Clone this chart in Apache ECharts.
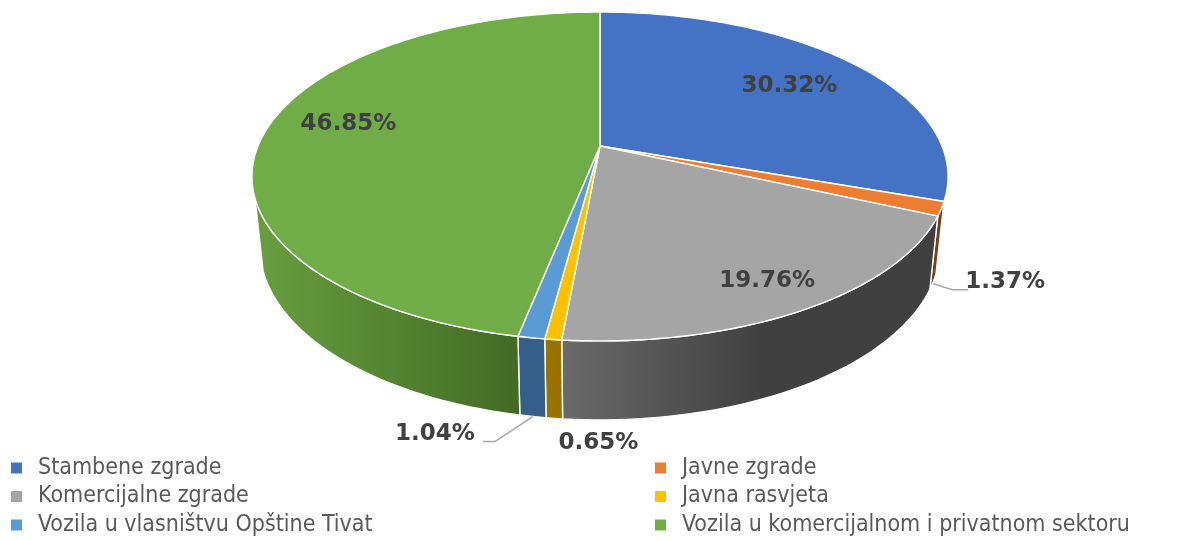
<!DOCTYPE html>
<html><head><meta charset="utf-8">
<style>html,body{margin:0;padding:0;background:#fff}#c{width:1193px;height:540px}</style>
<script src="https://cdn.jsdelivr.net/npm/echarts@6/dist/echarts.min.js"></script>
</head><body><div id="c"></div>
<script>
const categories = ['Stambene zgrade','Javne zgrade','Komercijalne zgrade','Javna rasvjeta','Vozila u vlasništvu Opštine Tivat','Vozila u komercijalnom i privatnom sektoru'];
const shares = [30.32,1.37,19.76,0.65,1.04,46.85];
const labels = ['30.32%','1.37%','19.76%','0.65%','1.04%','46.85%'];
const topColors = ['#4472C4','#ED7D31','#A5A5A5','#FFC000','#5B9BD5','#70AD47'];
const wallStops = [
  [[0,'#2f5190'],[1,'#2f5190']],
  [[0,'#7a3f14'],[1,'#7a3f14']],
  [[0,'#6a6a6a'],[0.53,'#404040'],[1,'#404040']],
  [[0,'#997300'],[1,'#997300']],
  [[0,'#345f8b'],[1,'#345f8b']],
  [[0,'#689e40'],[1,'#426b24']]
];
// projection of the pie's top and bottom discs (perspective)
const K = 0.1854;
const topDisc = {cx:600, cy:146, a:342, b:158.8};
const lowDisc = {cx:600, cy:216, a:334, b:166.1};
const WALL_FROM = 108, WALL_TO = 252;
function proj(d, r, deg){
  const t = deg*Math.PI/180, u = r*Math.sin(t), v = r*Math.cos(t), w = 1+K*v;
  return [d.cx + d.a*u/w, d.cy - d.b*v/w];
}
const total = shares.reduce((a,b)=>a+b,0);
const spans = []; { let c=0; for(const s of shares){ spans.push([c/total*360,(c+s)/total*360]); c+=s; } }
function arc(d,a0,a1){ const n=Math.max(2,Math.ceil(Math.abs(a1-a0)/1.5)), p=[]; for(let i=0;i<=n;i++) p.push(proj(d,1,a0+(a1-a0)*i/n)); return p; }
// label placement: [radius on top disc, dx, dy]; leaders: [dx,dy] bends from the wall's bottom rim
const labelPlace = [[0.7,8,0],[1.0,72,0],[0.7,31,27],[1.0,44,25],[1.0,-98,18],[0.74,-3,-11]];
const leaders = {1:[[0,2],[19,8],[35,8]], 4:[[0,0],[-38,25],[-50,25]]};
const labelFont = 'bold 23px "DejaVu Sans"';

function renderTop(idx){ return function(params, api){
  const [a0,a1]=spans[idx], pts=[proj(topDisc,0,0)].concat(arc(topDisc,a0,a1));
  const mid=(a0+a1)/2, pl=labelPlace[idx];
  const useLow = pl[0]===1.0;
  const base = useLow ? proj(lowDisc,1,mid) : proj(topDisc,pl[0],mid);
  const children=[{type:'polygon',shape:{points:pts},style:{fill:topColors[idx],stroke:'#fff',lineWidth:1.4,lineJoin:'round'}}];
  if(leaders[idx]){
    const r=proj(lowDisc,1,mid);
    children.push({type:'polyline',shape:{points:leaders[idx].map(o=>[r[0]+o[0],r[1]+o[1]])},style:{fill:null,stroke:'#a6a6a6',lineWidth:1.5}});
  }
  children.push({type:'text',style:{text:labels[idx],x:base[0]+pl[1],y:base[1]+pl[2],align:'center',verticalAlign:'middle',font:labelFont,fill:'#404040'}});
  return {type:'group',children};
};}
function renderWall(params, api){
  const idx=params.dataIndex,[s0,s1]=spans[idx],a0=Math.max(s0,WALL_FROM),a1=Math.min(s1,WALL_TO);
  if(a1<=a0) return {type:'group',children:[]};
  const pts=arc(topDisc,a0,a1).concat(arc(lowDisc,a1,a0));
  const xs=pts.map(p=>p[0]);
  return {type:'polygon',shape:{points:pts},style:{
    fill:new echarts.graphic.LinearGradient(Math.min(...xs),0,Math.max(...xs),0,wallStops[idx].map(s=>({offset:s[0],color:s[1]})),true),
    stroke:'#fff',lineWidth:1.4,lineJoin:'round'}};
}
const series=[{type:'custom',name:'walls',coordinateSystem:'none',z:1,silent:true,data:shares,renderItem:renderWall}];
categories.forEach((name,i)=>series.push({type:'custom',name,coordinateSystem:'none',z:2,silent:true,data:[shares[i]],itemStyle:{color:topColors[i]},renderItem:renderTop(i)}));
const legendText={color:'#595959',fontFamily:'"DejaVu Sans Condensed","DejaVu Sans"',fontSize:23,lineHeight:28,padding:[0,0,0,11]};
const legendCommon={orient:'vertical',icon:'rect',itemWidth:11,itemHeight:11,itemGap:0.5,padding:0,textStyle:legendText,selectedMode:false};
const chart=echarts.init(document.getElementById('c'),null,{renderer:'canvas'});
chart.setOption({animation:false,backgroundColor:'#fff',
  legend:[
    Object.assign({left:11,top:454,data:[categories[0],categories[2],categories[4]]},legendCommon),
    Object.assign({left:655,top:454,data:[categories[1],categories[3],categories[5]]},legendCommon)
  ],
  series});
</script></body></html>
